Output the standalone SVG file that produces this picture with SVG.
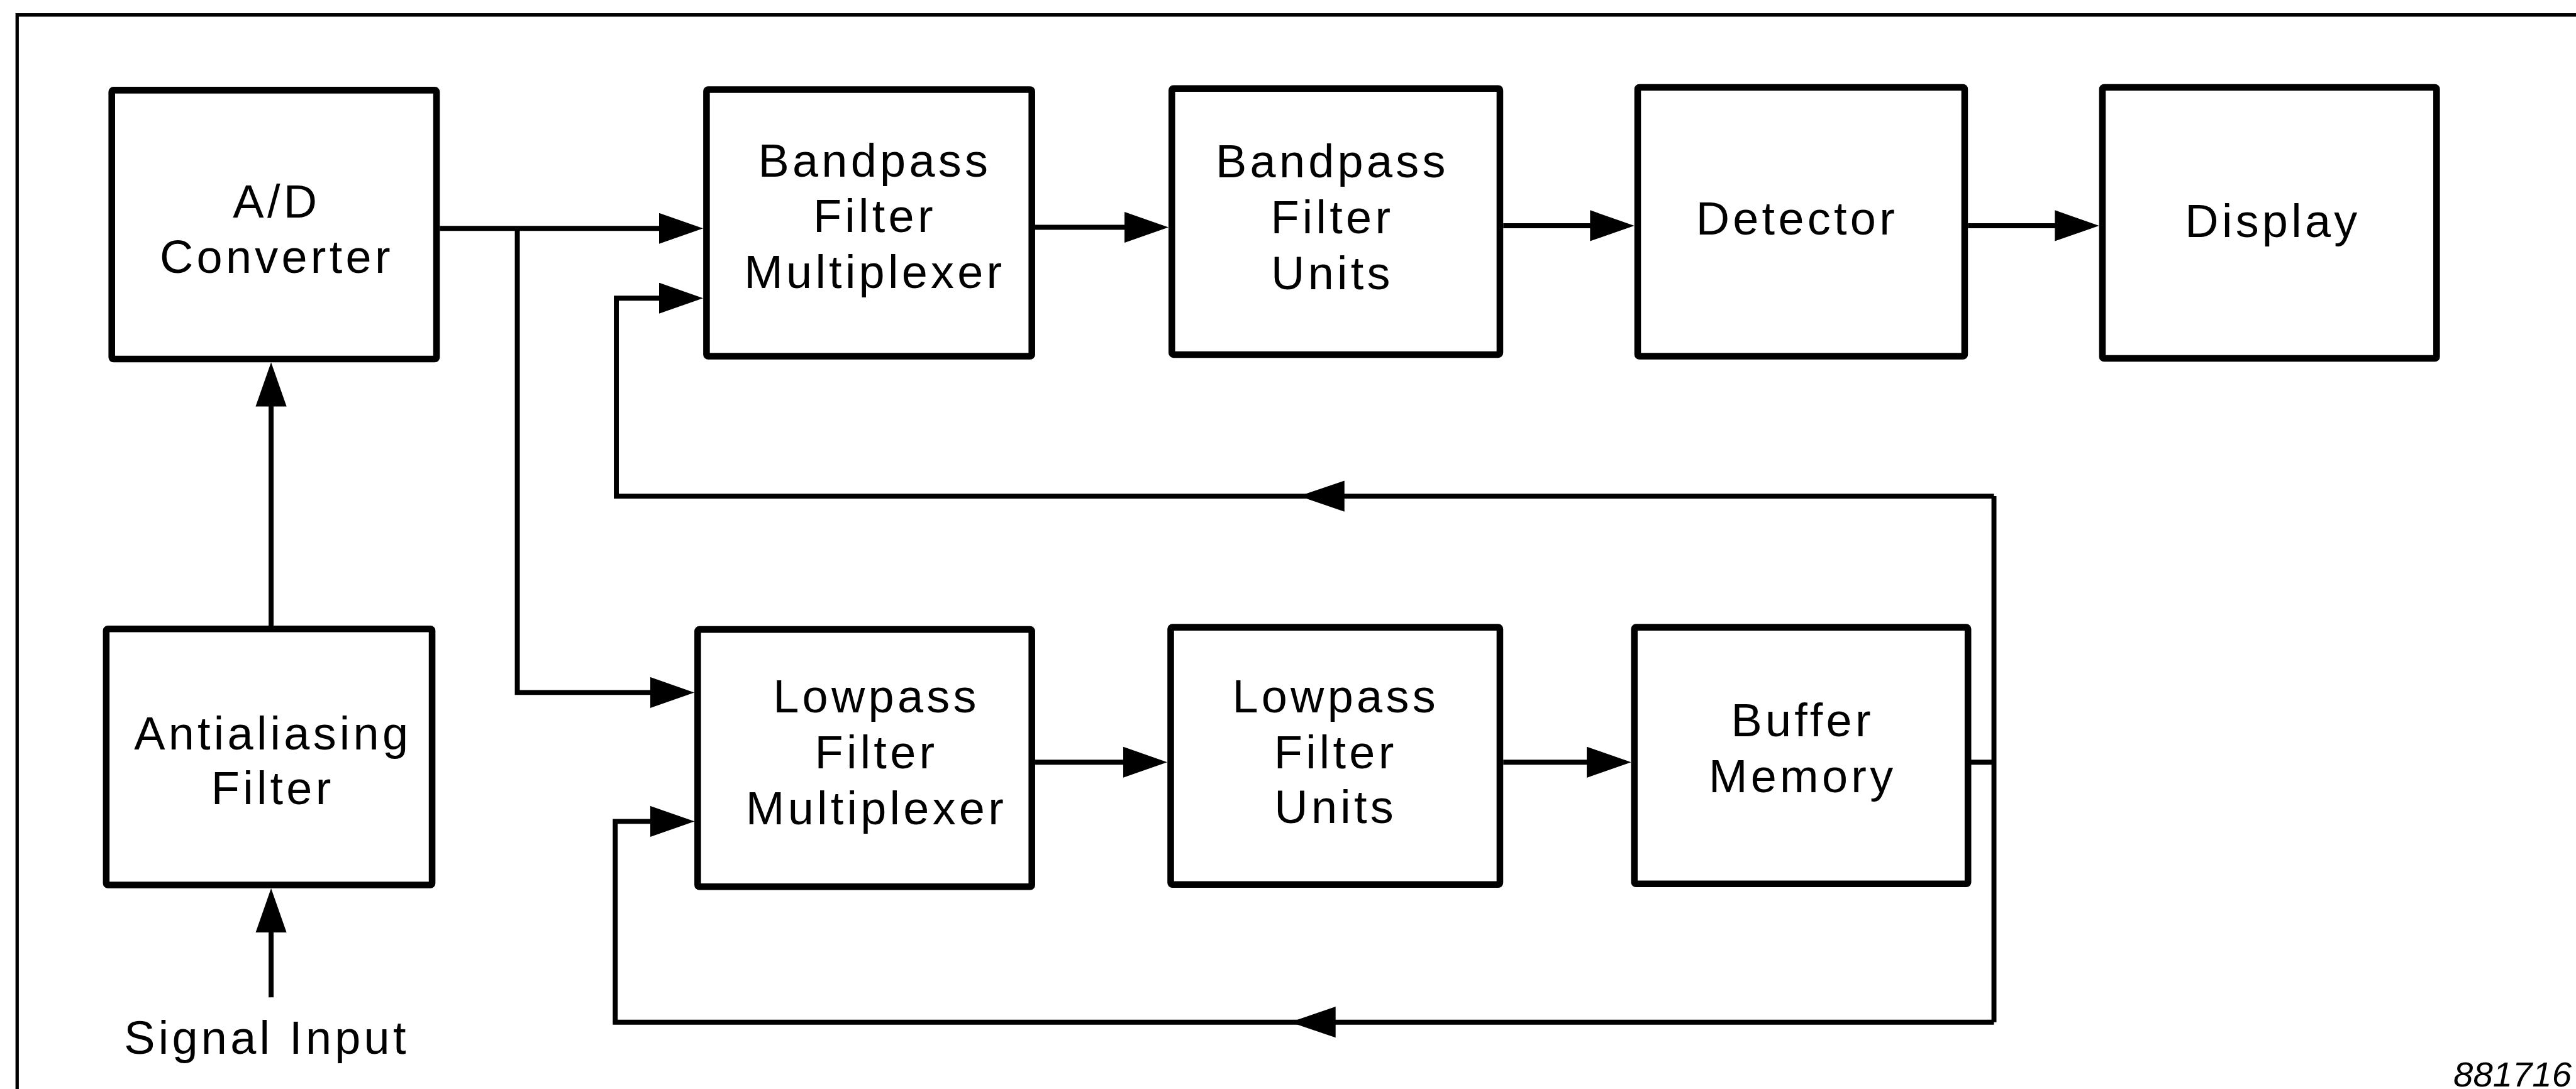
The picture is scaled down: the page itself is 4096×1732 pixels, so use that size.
<svg xmlns="http://www.w3.org/2000/svg" width="4096" height="1732" viewBox="0 0 4096 1732">
<style>
.box{fill:#fff;stroke:#000;stroke-width:12;stroke-linejoin:round}
.c{fill:none;stroke:#000;stroke-width:9;stroke-linejoin:miter}
.fr{fill:none;stroke:#000;stroke-width:6}
.t{font-family:"Liberation Sans",Arial,Helvetica,sans-serif;font-size:84px;letter-spacing:6px;fill:#000;text-anchor:middle}
.id{font-family:"Liberation Sans",Arial,Helvetica,sans-serif;font-size:64px;font-style:italic;fill:#000;text-anchor:end}
.ah{fill:#000}
</style>
<defs>
<marker id="arr" viewBox="0 0 80 56" refX="10" refY="28" markerWidth="80" markerHeight="56" markerUnits="userSpaceOnUse" orient="auto">
<path d="M0,0 L80,28 L0,56 z" fill="#000"/>
</marker>
</defs>
<rect width="4096" height="1732" fill="#fff"/>
<g transform="scale(0.879725)">
<g id="frame">
<path class="fr" d="M31,1969 V27 H4656"/>
</g>
<g id="connectors">
<!-- A/D to Bandpass mux -->
<path class="c" d="M795,413 H1201" marker-end="url(#arr)"/>
<!-- branch to Lowpass mux -->
<path class="c" d="M935,413 V1252 H1185" marker-end="url(#arr)"/>
<!-- Antialiasing to A/D -->
<path class="c" d="M490,1131 V725" marker-end="url(#arr)"/>
<!-- Signal input -->
<path class="c" d="M490,1803 V1676" marker-end="url(#arr)"/>
<!-- Bandpass mux to units -->
<path class="c" d="M1871,411 H2042" marker-end="url(#arr)"/>
<!-- Bandpass units to detector -->
<path class="c" d="M2717,408 H2884" marker-end="url(#arr)"/>
<!-- Detector to display -->
<path class="c" d="M3557,408 H3724" marker-end="url(#arr)"/>
<!-- Lowpass mux to units -->
<path class="c" d="M1871,1378 H2040" marker-end="url(#arr)"/>
<!-- Lowpass units to buffer -->
<path class="c" d="M2717,1378 H2878" marker-end="url(#arr)"/>
<!-- Buffer stub and feedback loops -->
<path class="c" d="M3560,1378 H3604"/>
<path class="c" d="M3604,897 V1848"/>
<path class="c" d="M3604,897 H1114 V539 H1201" marker-end="url(#arr)"/>
<path class="c" d="M3604,1848 H1112 V1485 H1185" marker-end="url(#arr)"/>
<polygon class="ah" points="2348,897 2430,869 2430,925"/>
<polygon class="ah" points="2332,1848 2414,1820 2414,1876"/>
</g>
<g id="ad-converter">
<rect class="box" x="202" y="163" width="587" height="486" rx="3"/>
<text class="t" x="500" y="393">A/D</text>
<text class="t" x="500" y="493">Converter</text>
</g>
<g id="antialiasing-filter">
<rect class="box" x="192" y="1137" width="589" height="463" rx="3"/>
<text class="t" x="493" y="1355">Antialiasing</text>
<text class="t" x="493" y="1454">Filter</text>
</g>
<g id="signal-input">
<text class="t" x="482" y="1905">Signal Input</text>
</g>
<g id="bandpass-mux">
<rect class="box" x="1277" y="162" width="588" height="482" rx="3"/>
<text class="t" x="1581" y="319">Bandpass</text>
<text class="t" x="1581" y="420">Filter</text>
<text class="t" x="1581" y="521">Multiplexer</text>
</g>
<g id="bandpass-units">
<rect class="box" x="2118" y="160" width="593" height="481" rx="3"/>
<text class="t" x="2408" y="321">Bandpass</text>
<text class="t" x="2408" y="422">Filter</text>
<text class="t" x="2408" y="523">Units</text>
</g>
<g id="detector">
<rect class="box" x="2960" y="158" width="591" height="486" rx="3"/>
<text class="t" x="3248" y="424">Detector</text>
</g>
<g id="display">
<rect class="box" x="3800" y="158" width="604" height="490" rx="3"/>
<text class="t" x="4108" y="428">Display</text>
</g>
<g id="lowpass-mux">
<rect class="box" x="1261" y="1138" width="604" height="465" rx="3"/>
<text class="t" x="1584" y="1288">Lowpass</text>
<text class="t" x="1584" y="1389">Filter</text>
<text class="t" x="1584" y="1490">Multiplexer</text>
</g>
<g id="lowpass-units">
<rect class="box" x="2116" y="1134" width="595" height="465" rx="3"/>
<text class="t" x="2414" y="1288">Lowpass</text>
<text class="t" x="2414" y="1389">Filter</text>
<text class="t" x="2414" y="1488">Units</text>
</g>
<g id="buffer-memory">
<rect class="box" x="2954" y="1134" width="603" height="464" rx="3"/>
<text class="t" x="3258" y="1331">Buffer</text>
<text class="t" x="3258" y="1432">Memory</text>
</g>
<g id="figure-id">
<text class="id" x="4648" y="1964">881716</text>
</g>
</g>
</svg>
